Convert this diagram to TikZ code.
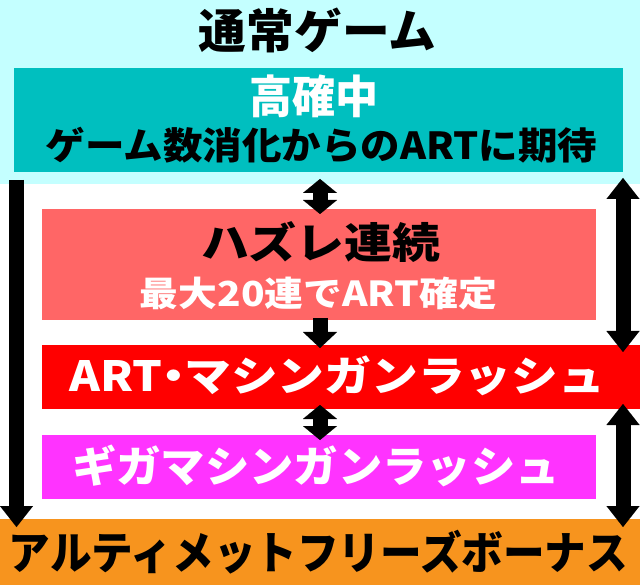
\documentclass[tikz,border=0pt]{standalone}
\usepackage{fontspec}
\usepackage{graphicx}
\newfontfamily\jp{Noto Sans CJK JP}
\usetikzlibrary{arrows.meta}
\definecolor{bgcyan}{HTML}{C4FFFF}
\definecolor{tealbox}{HTML}{00BFBF}
\definecolor{salmonbox}{HTML}{FF6666}
\definecolor{redbox}{HTML}{FF0000}
\definecolor{magbox}{HTML}{FF33FF}
\definecolor{orangebox}{HTML}{F7941E}
\newcommand\fitText[3]{\resizebox*{#1pt}{#2pt}{\jp\bfseries #3}}
\tikzset{
  box/.style={draw=none, inner sep=0pt, outer sep=0pt, anchor=north west},
  lbl/.style={inner sep=0pt, outer sep=0pt, anchor=center},
  bigarrow/.style={line width=15pt, -{Triangle[width=33pt,length=21pt,line width=0.01pt]}},
  bigdbl/.style={line width=15pt, {Triangle[width=33pt,length=21pt,line width=0.01pt]}-{Triangle[width=33pt,length=21pt,line width=0.01pt]}},
  smalldbl/.style={line width=15pt, {Triangle[width=34pt,length=14pt,line width=0.01pt]}-{Triangle[width=34pt,length=14pt,line width=0.01pt]}},
  downarrow/.style={line width=15pt, -{Triangle[width=34pt,length=16pt,line width=0.01pt]}},
}
\begin{document}
\begin{tikzpicture}[x=1pt,y=-1pt]
\useasboundingbox (0,0) rectangle (640,585);
\fill[white] (0,0) rectangle (640,585);
% boxes
\node[box, fill=bgcyan, minimum width=640pt, minimum height=184pt] (cyan) at (0,0) {};
\node[box, fill=tealbox, minimum width=609pt, minimum height=104pt] (teal) at (14,68) {};
\node[box, fill=salmonbox, minimum width=554pt, minimum height=111pt] (hazure) at (42,209) {};
\node[box, fill=redbox, minimum width=598pt, minimum height=64pt] (red) at (42,345) {};
\node[box, fill=magbox, minimum width=554pt, minimum height=64pt] (magenta) at (42,435) {};
\node[box, fill=orangebox, minimum width=640pt, minimum height=66pt] (orange) at (0,519) {};
% texts
\node[lbl, text=black] (t1) at (317.5,30.5) {\fitText{237}{45}{通常ゲーム}};
\node[lbl, text=white] (t2) at (313.5,96.5) {\fitText{129}{43}{高確中}};
\node[lbl, text=black] (t3) at (321.5,145) {\fitText{551}{36}{ゲーム数消化からのARTに期待}};
\node[lbl, text=black] (t4) at (320.5,242.5) {\fitText{239}{41}{ハズレ連続}};
\node[lbl, text=white] (t5) at (318.5,293.5) {\fitText{357}{33}{最大20連でART確定}};
\node[lbl, text=white] (t6) at (337.5,376) {\fitText{535}{40}{ART\kern-0.27em・\kern-0.27emマシンガンラッシュ}};
\node[lbl, text=white] (t7) at (316,466) {\fitText{488}{42}{ギガマシンガンラッシュ}};
\node[lbl, text=black] (t8) at (318.5,552) {\fitText{619}{44}{アルティメットフリーズボーナス}};
% arrows
\coordinate (lA) at (16.5,180);
\coordinate (rA) at (623,178);
\coordinate (mid) at (320,0);
\draw[bigarrow, shorten >=-8pt] (lA) -- (lA |- orange.north);
\draw[bigdbl, shorten >=-7pt] (rA) -- (rA |- red.north);
\draw[bigdbl, shorten <=-5pt, shorten >=-8pt] (rA |- red.south) -- (rA |- orange.north);
\draw[smalldbl, shorten <=7pt, shorten >=-5pt] (mid |- teal.south) -- (mid |- hazure.north);
\draw[downarrow, shorten <=-2pt, shorten >=-3pt] (mid |- hazure.south) -- (mid |- red.north);
\draw[smalldbl, shorten <=-4pt, shorten >=-5pt] (mid |- red.south) -- (mid |- magenta.north);
\end{tikzpicture}
\end{document}
